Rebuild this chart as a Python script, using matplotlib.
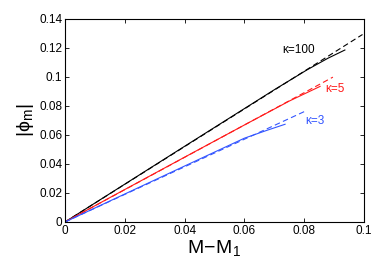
import matplotlib
matplotlib.use("Agg")
import matplotlib.pyplot as plt
import numpy as np

plt.rcParams['font.family'] = ['Liberation Sans', 'DejaVu Sans']
plt.rcParams['mathtext.fontset'] = 'custom'
plt.rcParams['mathtext.rm'] = 'Liberation Sans'
plt.rcParams['mathtext.it'] = 'Liberation Sans:italic'

# Solid curves (numerical)
x_k100 = [0.0, 0.02, 0.04, 0.06, 0.07, 0.081, 0.088, 0.0936]
y_k100 = [0.0, 0.0261, 0.0522, 0.0782, 0.0912, 0.1050, 0.1130, 0.1186]
x_k5 = [0.0, 0.02, 0.04, 0.06, 0.075, 0.0853]
y_k5 = [0.0, 0.0224, 0.0447, 0.0669, 0.0834, 0.0935]
x_k3 = [0.0, 0.02, 0.04, 0.06, 0.0675, 0.0736]
y_k3 = [0.0, 0.0193, 0.0386, 0.0578, 0.0632, 0.0674]

# Dashed curves (asymptotic)
xd_k100 = [0.0, 0.0995]
yd_k100 = [0.0, 0.1293]
xd_k5 = [0.0, 0.0896]
yd_k5 = [0.0, 0.0999]
xd_k3 = [0.0, 0.0803]
yd_k3 = [0.0, 0.0764]

labels = ['κ=100', 'κ=5', 'κ=3']
label_pos = [(0.0726, 0.1186), (0.0872, 0.0917), (0.0803, 0.0697)]
colors = ['black', '#ff1a1a', '#3355ff']

fig = plt.figure(figsize=(3.92, 2.63), dpi=100)
ax = fig.add_axes([0.1658, 0.1559, 0.7628, 0.7719])

for xs, ys, xd, yd, c in [(x_k100, y_k100, xd_k100, yd_k100, colors[0]),
                          (x_k5, y_k5, xd_k5, yd_k5, colors[1]),
                          (x_k3, y_k3, xd_k3, yd_k3, colors[2])]:
    ax.plot(xs, ys, '-', color=c, lw=0.8)
    ax.plot(xd, yd, '--', color=c, lw=0.8, dashes=(5, 3))

for lab, (lx, ly), c in zip(labels, label_pos, colors):
    ax.text(lx, ly, lab, color=c, fontsize=8.5, va='center', ha='left')

ax.set_xlim(0, 0.1)
ax.set_ylim(0, 0.14)
ax.set_xticks([0, 0.02, 0.04, 0.06, 0.08, 0.1])
ax.set_xticklabels(['0', '0.02', '0.04', '0.06', '0.08', '0.1'])
ax.set_yticks([0, 0.02, 0.04, 0.06, 0.08, 0.1, 0.12, 0.14])
ax.set_yticklabels(['0', '0.02', '0.04', '0.06', '0.08', '0.1', '0.12', '0.14'])
ax.tick_params(direction='in', top=True, right=True, labelsize=8.5, length=3, width=0.6, pad=2)
for s in ax.spines.values():
    s.set_linewidth(0.8)
ax.set_xlabel(r'$\mathregular{M\!-\!M_1}$', fontsize=14, labelpad=1)
ax.set_ylabel(r'$\mathregular{|\phi_m|}$', fontsize=14, labelpad=2)

fig.savefig('out.png', dpi=100)
